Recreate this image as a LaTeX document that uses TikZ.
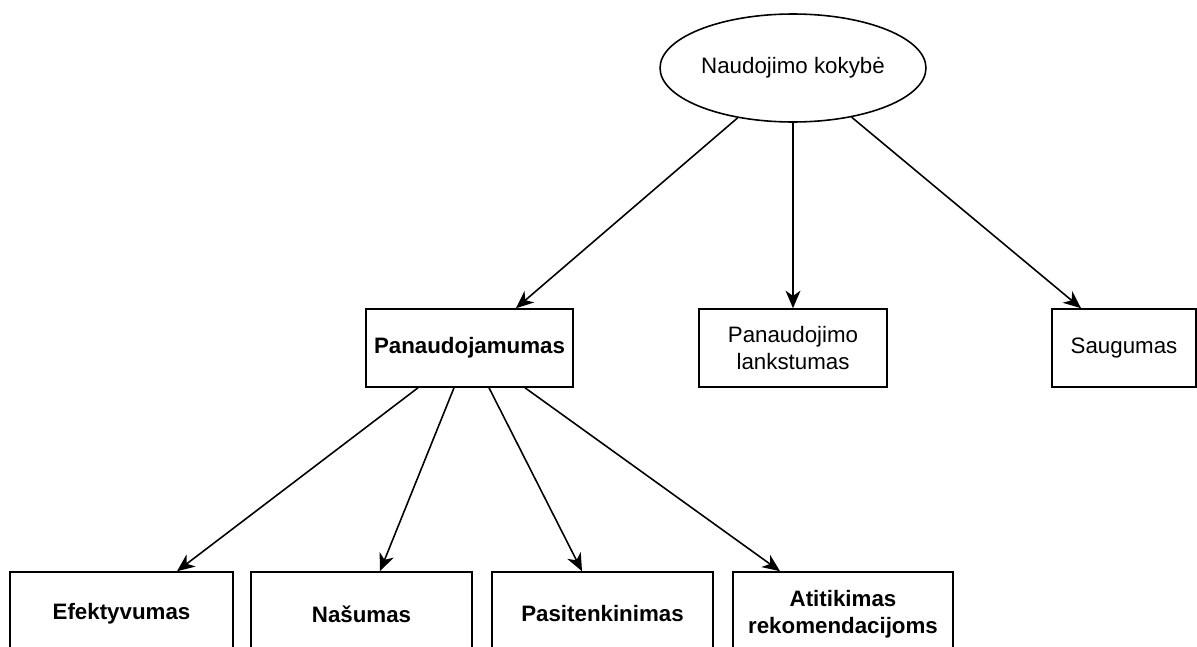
\documentclass[tikz,border=0pt]{standalone}
\usepackage{fontspec}
\setmainfont{Liberation Sans}
\usepackage{tikz}
\usetikzlibrary{arrows.meta}
\usetikzlibrary{shapes.geometric}

\begin{document}
\begin{tikzpicture}[x=0.02cm,y=-0.02cm,
		line width=0.9pt,
		every node/.style={font=\fontsize{12.7}{15.4}\selectfont},
		box/.style={draw,rectangle,inner sep=0pt,align=center,minimum height=1.56cm},
		arr/.style={-{Stealth[length=10pt,width=8.5pt,inset=3pt]}}]
		\useasboundingbox (0,0) rectangle (1197,646);
		
		\node[draw,ellipse,inner sep=0pt,minimum width=5.32cm,minimum height=2.16cm] (kokybe) at (793,68) {Naudojimo kokybė};
		
		\node[box,minimum width=4.14cm] (panaud) at (469.5,348) {\textbf{Panaudojamumas}};
		\node[box,minimum width=3.76cm] (lankst) at (793,348) {Panaudojimo\\lankstumas};
		\node[box,minimum width=2.88cm] (saug) at (1124,348) {Saugumas};
		
		\node[box,minimum width=4.46cm,minimum height=1.68cm] (efekt) at (121.5,614) {\textbf{Efektyvumas}};
		\node[box,minimum width=4.42cm,minimum height=1.68cm] (nasum) at (361.5,614) {\textbf{Našumas}};
		\node[box,minimum width=4.42cm,minimum height=1.68cm] (pasit) at (602.5,614) {\textbf{Pasitenkinimas}};
		\node[box,minimum width=4.40cm,minimum height=1.68cm] (atitik) at (843,614) {\textbf{Atitikimas}\\\textbf{rekomendacijoms}};
		
		\draw[arr] (kokybe.222) -- ([xshift=0.93cm]panaud.north);
		\draw[arr] (kokybe.south) -- (lankst.north);
		\draw[arr] (kokybe.320) -- ([xshift=-0.86cm]saug.north);
		
		\draw[arr] ([xshift=-1.03cm]panaud.south) -- ([xshift=1.11cm]efekt.north);
		\draw[arr] ([xshift=-0.31cm]panaud.south) -- ([xshift=0.37cm]nasum.north);
		\draw[arr] ([xshift=0.39cm]panaud.south) -- ([xshift=-0.41cm]pasit.north);
		\draw[arr] ([xshift=1.11cm]panaud.south) -- ([xshift=-1.26cm]atitik.north);
	\end{tikzpicture}
\end{document}
